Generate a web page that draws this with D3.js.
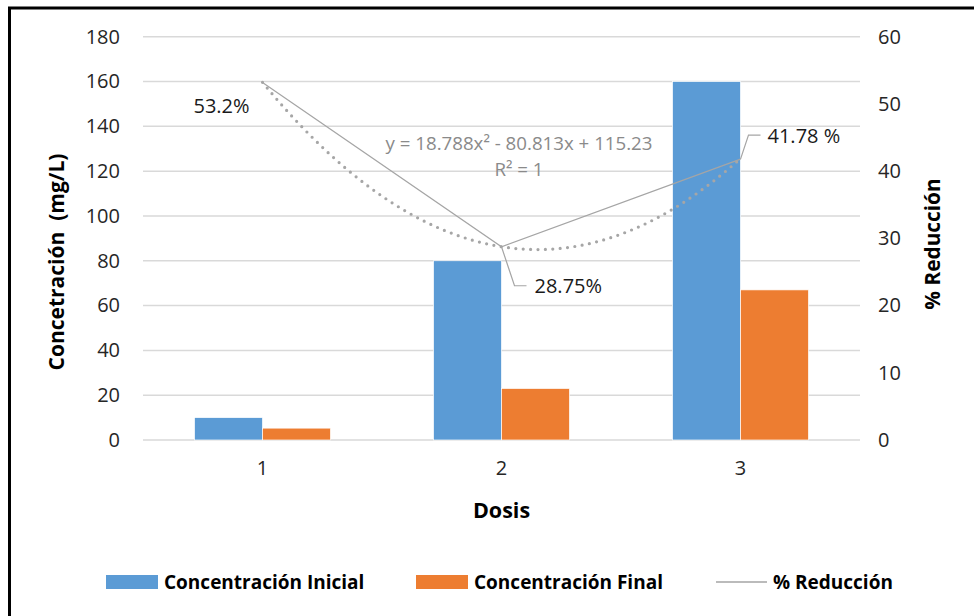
<!DOCTYPE html>
<html>
<head>
<meta charset="utf-8">
<script src="https://cdn.jsdelivr.net/npm/d3@7"></script>
<style>
  html, body { margin: 0; padding: 0; background: #fff; }
  svg { display: block; font-family: "Open Sans", "Noto Sans", sans-serif; }
</style>
</head>
<body>
<svg id="chart" width="974" height="616"></svg>
<script>
// ---- data ----
const categories = ["1", "2", "3"];
const concInicial = [10, 80, 160];
const concFinal = [5.3, 23, 67];
const reduccion = [53.2, 28.75, 41.78];
const reduccionLabels = ["53.2%", "28.75%", "41.78 %"];
const leftTicks = [0, 20, 40, 60, 80, 100, 120, 140, 160, 180];
const rightTicks = [0, 10, 20, 30, 40, 50, 60];
const trendCoef = [18.788, -80.813, 115.23]; // a x^2 + b x + c
const trendEquation = "y = 18.788x² - 80.813x + 115.23";
const trendR2 = "R² = 1";
const seriesNames = ["Concentración Inicial", "Concentración Final", "% Reducción"];

const colors = { inicial: "#5b9bd5", final: "#ed7d31", line: "#a5a5a5", grid: "#d9d9d9" };

const svg = d3.select("#chart");

// frame (only left and top visible in reference)
svg.append("rect").attr("x", 9.5).attr("y", 8).attr("width", 1000).attr("height", 700)
  .attr("fill", "none").attr("stroke", "#000").attr("stroke-width", 3);

const plot = { left: 143, right: 860, top: 36.7, bottom: 440 };

const x = d3.scaleBand().domain(categories).range([plot.left, plot.right])
  .paddingInner(0.431).paddingOuter(0.2155);
const xSub = d3.scaleBand().domain(["inicial", "final"]).range([0, x.bandwidth()]);
const yL = d3.scaleLinear().domain([0, 180]).range([plot.bottom, plot.top]);
const yR = d3.scaleLinear().domain([0, 60]).range([plot.bottom, plot.top]);
const xc = c => x(c) + x.bandwidth() / 2;
const xNum = d3.scaleLinear().domain([1, 3]).range([xc("1"), xc("3")]);

// gridlines
svg.append("g").selectAll("line").data(leftTicks).join("line")
  .attr("x1", plot.left).attr("x2", plot.right)
  .attr("y1", d => yL(d)).attr("y2", d => yL(d))
  .attr("stroke", colors.grid).attr("stroke-width", 1.5);

const tickFont = 20;
// left axis
const axL = svg.append("g").attr("transform", `translate(${plot.left},0)`)
  .call(d3.axisLeft(yL).tickValues(leftTicks).tickSize(0).tickPadding(23));
axL.select(".domain").remove();
axL.selectAll("text").attr("font-size", tickFont).attr("fill", "#262626")
  .attr("font-family", "'Open Sans', sans-serif");

// right axis
const axR = svg.append("g").attr("transform", `translate(${plot.right},0)`)
  .call(d3.axisRight(yR).tickValues(rightTicks).tickSize(0).tickPadding(18));
axR.select(".domain").remove();
axR.selectAll("text").attr("font-size", tickFont).attr("fill", "#262626")
  .attr("font-family", "'Open Sans', sans-serif");

// x axis
const axB = svg.append("g").attr("transform", `translate(0,${plot.bottom})`)
  .call(d3.axisBottom(x).tickSize(0).tickPadding(21));
axB.select(".domain").remove();
axB.selectAll("text").attr("font-size", tickFont).attr("fill", "#262626")
  .attr("font-family", "'Open Sans', sans-serif");

// bars
const groups = svg.append("g").selectAll("g").data(categories).join("g")
  .attr("transform", d => `translate(${x(d)},0)`);
groups.append("rect")
  .attr("x", xSub("inicial")).attr("width", xSub.bandwidth())
  .attr("y", (d, i) => yL(concInicial[i]))
  .attr("height", (d, i) => yL(0) - yL(concInicial[i]))
  .attr("fill", colors.inicial).attr("stroke", "#fff").attr("stroke-width", 0.7);
groups.append("rect")
  .attr("x", xSub("final")).attr("width", xSub.bandwidth())
  .attr("y", (d, i) => yL(concFinal[i]))
  .attr("height", (d, i) => yL(0) - yL(concFinal[i]))
  .attr("fill", colors.final).attr("stroke", "#fff").attr("stroke-width", 0.7);

// trendline (from displayed coefficients)
const trendX = d3.range(1, 3.0001, 0.02);
const trendLine = d3.line()
  .x(t => xNum(t))
  .y(t => yR(trendCoef[0] * t * t + trendCoef[1] * t + trendCoef[2]));
svg.append("path").datum(trendX).attr("d", trendLine)
  .attr("fill", "none").attr("stroke", "#a6a6a6").attr("stroke-width", 3.2)
  .attr("stroke-linecap", "round").attr("stroke-dasharray", "0 7.4");

// % reducción line
const line = d3.line().x((d, i) => xc(categories[i])).y(d => yR(d));
svg.append("path").datum(reduccion).attr("d", line)
  .attr("fill", "none").attr("stroke", colors.line).attr("stroke-width", 1.2);

// data labels
const lblFont = 20;
svg.append("text").attr("x", xc("1") - 41).attr("y", yR(reduccion[0]) + 31)
  .attr("text-anchor", "middle").attr("font-size", lblFont).attr("fill", "#1a1a1a")
  .text(reduccionLabels[0]);
{
  const px = xc("2"), py = yR(reduccion[1]);
  svg.append("polyline")
    .attr("points", [[px, py], [px + 13, py + 39], [px + 25, py + 39]].map(p => p.join(",")).join(" "))
    .attr("fill", "none").attr("stroke", "#a5a5a5").attr("stroke-width", 1.2);
  svg.append("text").attr("x", px + 33).attr("y", py + 39).attr("dy", "0.35em")
    .attr("font-size", lblFont).attr("fill", "#1a1a1a").text(reduccionLabels[1]);
}
{
  const px = xc("3"), py = yR(reduccion[2]);
  svg.append("polyline")
    .attr("points", [[px, py], [px + 8, py - 24], [px + 20, py - 24]].map(p => p.join(",")).join(" "))
    .attr("fill", "none").attr("stroke", "#a5a5a5").attr("stroke-width", 1.2);
  svg.append("text").attr("x", px + 27).attr("y", py - 23).attr("dy", "0.35em")
    .attr("font-size", lblFont).attr("fill", "#1a1a1a").text(reduccionLabels[2]);
}

// trendline equation
svg.append("text").attr("x", 519).attr("y", 143).attr("dy", "0.35em")
  .attr("text-anchor", "middle").attr("font-size", 18.7).attr("fill", "#8a8a8a")
  .text(trendEquation);
svg.append("text").attr("x", 519).attr("y", 169).attr("dy", "0.35em")
  .attr("text-anchor", "middle").attr("font-size", 18.7).attr("fill", "#8a8a8a")
  .text(trendR2);

// axis titles
svg.append("text")
  .attr("transform", `translate(57,262) rotate(-90)`)
  .attr("text-anchor", "middle").attr("dy", "0.35em")
  .attr("font-size", 21).attr("font-weight", "bold").attr("fill", "#000")
  .attr("xml:space", "preserve")
  .text("Concetración  (mg/L)");
svg.append("text")
  .attr("transform", `translate(933,244) rotate(-90)`)
  .attr("text-anchor", "middle").attr("dy", "0.35em")
  .attr("font-size", 20.8).attr("font-weight", "bold").attr("fill", "#000")
  .text("% Reducción");
svg.append("text").attr("x", xc("2")).attr("y", 510).attr("dy", "0.35em")
  .attr("text-anchor", "middle").attr("font-size", 21.5).attr("font-weight", "bold")
  .attr("fill", "#000").text("Dosis");

// legend
const legY = 582;
const legFont = 19;
const leg = svg.append("g");
leg.append("rect").attr("x", 106).attr("y", legY - 7).attr("width", 52).attr("height", 14).attr("fill", colors.inicial);
leg.append("text").attr("x", 164).attr("y", legY).attr("dy", "0.35em")
  .attr("font-size", legFont).attr("font-weight", "bold").attr("fill", "#000").text(seriesNames[0]);
leg.append("rect").attr("x", 416).attr("y", legY - 7).attr("width", 52).attr("height", 14).attr("fill", colors.final);
leg.append("text").attr("x", 474).attr("y", legY).attr("dy", "0.35em")
  .attr("font-size", legFont).attr("font-weight", "bold").attr("fill", "#000").text(seriesNames[1]);
leg.append("line").attr("x1", 716).attr("x2", 767).attr("y1", legY).attr("y2", legY)
  .attr("stroke", colors.line).attr("stroke-width", 1.5);
leg.append("text").attr("x", 773).attr("y", legY).attr("dy", "0.35em")
  .attr("font-size", legFont).attr("font-weight", "bold").attr("fill", "#000").text(seriesNames[2]);
</script>
</body>
</html>
